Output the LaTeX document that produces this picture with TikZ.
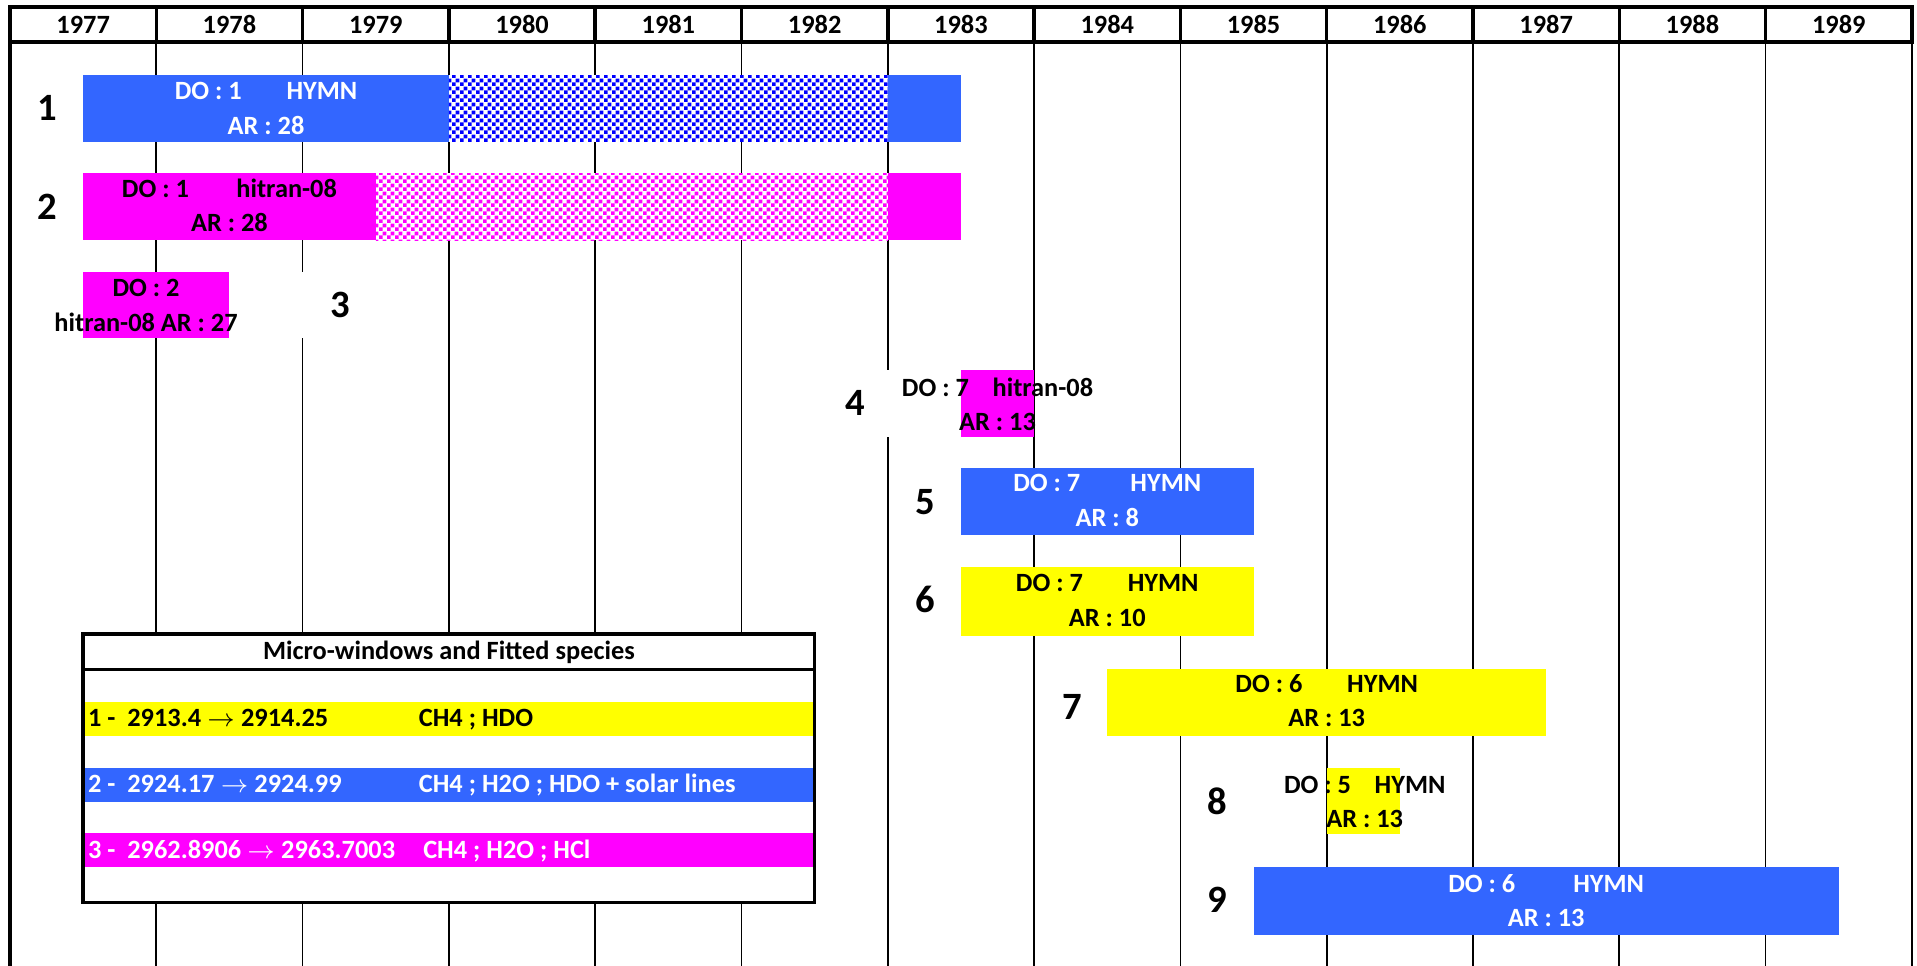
\documentclass[tikz,border=0pt]{standalone}
\usepackage{fontspec}
\setmainfont{Carlito}
\usetikzlibrary{patterns.meta}
\definecolor{hymnblue}{RGB}{51,102,255}
\definecolor{hitranpink}{RGB}{255,0,255}
\definecolor{sunyellow}{RGB}{255,255,0}
\tikzdeclarepattern{
  name=finecheck,
  type=uncolored,
  bounding box={(0pt,0pt) and (2.3pt,2.3pt)},
  tile size={(2.3pt,2.3pt)},
  code={
    \fill (0pt,0pt) rectangle (1.15pt,1.15pt);
    \fill (1.15pt,1.15pt) rectangle (2.3pt,2.3pt);
  }
}
\begin{document}
\begin{tikzpicture}[x=1.463cm, y=1cm, every node/.style={font=\fontsize{7.5}{9.8}\selectfont\bfseries, inner sep=0pt},
    runtext/.style={align=center},
    runlabel/.style={font=\fontsize{11}{13}\selectfont\bfseries},
    masked/.style={runlabel, fill=white, minimum width=1cm, minimum height=0.667cm},
    checkbar/.style={preaction={fill=white}, pattern=finecheck, pattern color=#1}]
  \useasboundingbox (-0.0684,0) rectangle (13.035,-9.66);
  \foreach \k in {1,...,12} \draw[line width=0.5pt] (\k,-0.42) -- (\k,-9.66);
  \foreach \yr [count=\k from 0] in {1977,...,1989} {
    \node (y\yr) at (\k+0.5,-0.245) {\yr};
    \draw[line width=1pt] (\k,-0.07) -- (\k,-0.42);
  }
  \draw[line width=1pt, line join=miter] (0,-9.66) -- (0,-0.07) -- (13,-0.07) -- (13,-0.42) -- (0,-0.42);
  \draw[line width=0.6pt] (13,-0.42) -- (13,-9.66);

  \fill[hymnblue] (0.5,-0.75) rectangle (3,-1.417);
  \fill[checkbar=blue] (3,-0.75) rectangle (6,-1.417);
  \fill[hymnblue] (6,-0.75) rectangle (6.5,-1.417);
  \node[runtext, text=white] (run1) at (1.75,-1.083) {DO : 1\hspace{1.7em}HYMN\\AR : 28};
  \node[runlabel] (lab1) at (0.253,-1.08) {1};

  \fill[hitranpink] (0.5,-1.733) rectangle (2.5,-2.4);
  \fill[checkbar=hitranpink] (2.5,-1.733) rectangle (6,-2.4);
  \fill[hitranpink] (6,-1.733) rectangle (6.5,-2.4);
  \node[runtext] (run2) at (1.5,-2.053) {DO : 1\hspace{1.8em}hitran-08\\AR : 28};
  \node[runlabel] (lab2) at (0.253,-2.067) {2};

  \fill[hitranpink] (0.5,-2.72) rectangle (1.5,-3.377);
  \node[runtext] (run3) at (0.93,-3.055) {DO : 2\\hitran-08 AR : 27};
  \node[masked] (lab3) at (2.256,-3.05) {3};

  \node[masked] (lab4) at (5.776,-4.033) {4};
  \fill[hitranpink] (6.5,-3.7) rectangle (7,-4.367);
  \node[runtext] (run4) at (6.75,-4.043) {DO : 7\hspace{0.9em}hitran-08\\AR : 13};

  \fill[hymnblue] (6.5,-4.683) rectangle (8.5,-5.35);
  \node[runtext, text=white] (run5) at (7.5,-5.005) {DO : 7\hspace{1.9em}HYMN\\AR : 8};
  \node[runlabel] (lab5) at (6.254,-5.017) {5};

  \fill[sunyellow] (6.5,-5.673) rectangle (8.5,-6.357);
  \node[runtext] (run6) at (7.5,-6.005) {DO : 7\hspace{1.7em}HYMN\\AR : 10};
  \node[runlabel] (lab6) at (6.254,-5.99) {6};

  \fill[sunyellow] (7.5,-6.693) rectangle (10.5,-7.357);
  \node[runtext] (run7) at (9,-7.008) {DO : 6\hspace{1.7em}HYMN\\AR : 13};
  \node[runlabel] (lab7) at (7.26,-7.067) {7};

  \fill[sunyellow] (9,-7.683) rectangle (9.5,-8.343);
  \node[runtext] (run8) at (9.26,-8.02) {DO : 5\hspace{0.9em}HYMN\\AR : 13};
  \node[runlabel] (lab8) at (8.254,-8.01) {8};

  \fill[hymnblue] (8.5,-8.667) rectangle (12.5,-9.35);
  \node[runtext, text=white] (run9) at (10.5,-9.005) {DO : 6\hspace{2.2em}HYMN\\AR : 13};
  \node[runlabel] (lab9) at (8.25,-9.0) {9};

  \fill[white] (0.5,-6.34) rectangle (5.5,-9.027);
  \fill[sunyellow] (0.5,-7.017) rectangle (5.5,-7.357);
  \fill[hymnblue] (0.5,-7.677) rectangle (5.5,-8.017);
  \fill[hitranpink] (0.5,-8.333) rectangle (5.5,-8.673);
  \draw[line width=1pt] (0.5,-6.34) rectangle (5.5,-9.027);
  \draw[line width=1pt] (0.5,-6.693) -- (5.5,-6.693);
  \node (legend) at (3,-6.52) {Micro-windows and Fitted species};
  \node[anchor=base west] (mw1) at (0.529,-7.263) {1 -\hspace{0.45em}2913.4 $\rightarrow$ 2914.25};
  \node[anchor=base west] (sp1) at (2.79,-7.263) {CH4 ; HDO};
  \node[anchor=base west, text=white] (mw2) at (0.529,-7.92) {2 -\hspace{0.45em}2924.17 $\rightarrow$ 2924.99};
  \node[anchor=base west, text=white] (sp2) at (2.79,-7.92) {CH4 ; H2O ; HDO + solar lines};
  \node[anchor=base west, text=white] (mw3) at (0.529,-8.583) {3 -\hspace{0.45em}2962.8906 $\rightarrow$ 2963.7003};
  \node[anchor=base west, text=white] (sp3) at (2.82,-8.583) {CH4 ; H2O ; HCl};
\end{tikzpicture}
\end{document}
